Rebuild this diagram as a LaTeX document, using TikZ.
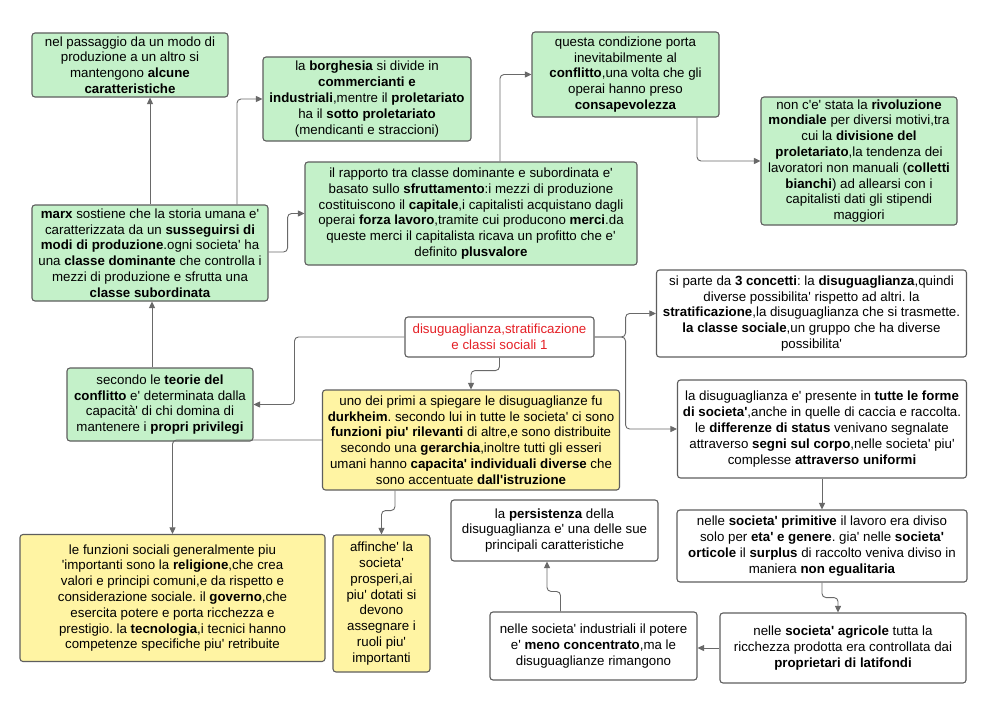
\documentclass[tikz,border=0pt]{standalone}
\usepackage{fontspec}
\setmainfont{Liberation Sans}[Ligatures=TeXOff]
\usetikzlibrary{arrows.meta}
\definecolor{gfill}{RGB}{196,241,201}
\definecolor{yfill}{RGB}{255,244,163}
\definecolor{bord}{RGB}{94,94,94}
\definecolor{linec}{RGB}{105,105,105}
\definecolor{redt}{RGB}{229,32,38}
\tikzset{
  base/.style={draw=bord, line width=1.1pt, rounded corners=3pt, align=center,
    inner sep=0pt, font=\fontsize{13.3}{15.8}\selectfont, text=black},
  gbox/.style={base, fill=gfill},
  ybox/.style={base, fill=yfill},
  wbox/.style={base, fill=white},
  conn/.style={draw=linec, line width=0.9pt, rounded corners=4pt,
    -{Triangle[length=6.5pt,width=6pt]}},
}
\frenchspacing
\begin{document}
\frenchspacing
\begin{tikzpicture}[x=1pt,y=-1pt]
\fill[white] (0,0) rectangle (1000,717);
\useasboundingbox (0,0) rectangle (1000,717);

\node[gbox, minimum width=196pt, minimum height=64pt] (A) at (130,65)
 {nel passaggio da un modo di\\ produzione a un altro si\\ mantengono \textbf{alcune}\\ \textbf{caratteristiche}};
\node[gbox, minimum width=208pt, minimum height=84pt] (B) at (367,99)
 {la \textbf{borghesia} si divide in\\ \textbf{commercianti e}\\ \textbf{industriali},mentre il \textbf{proletariato}\\ ha il \textbf{sotto proletariato}\\ (mendicanti e straccioni)};
\node[gbox, minimum width=187pt, minimum height=85pt] (C) at (625.5,74.5)
 {questa condizione porta\\ inevitabilmente al\\ \textbf{conflitto},una volta che gli\\ operai hanno preso\\ \textbf{consapevolezza}};
\node[gbox, minimum width=196pt, minimum height=128pt] (D) at (859,161)
 {non c'e' stata la \textbf{rivoluzione}\\ \textbf{mondiale} per diversi motivi,tra\\ cui la \textbf{divisione del}\\ \textbf{proletariato},la tendenza dei\\ lavoratori non manuali (\textbf{colletti}\\ \textbf{bianchi}) ad allearsi con i\\ capitalisti dati gli stipendi\\ maggiori};
\node[gbox, minimum width=236pt, minimum height=96pt] (E) at (150,253)
 {\textbf{marx} sostiene che la storia umana e'\\ caratterizzata da un \textbf{susseguirsi di}\\ \textbf{modi di produzione}.ogni societa' ha\\ una \textbf{classe dominante} che controlla i\\ mezzi di produzione e sfrutta una\\ \textbf{classe subordinata}};
\node[gbox, minimum width=332pt, minimum height=103pt] (F) at (471,213.5)
 {il rapporto tra classe dominante e subordinata e'\\ basato sullo \textbf{sfruttamento}:i mezzi di produzione\\ costituiscono il \textbf{capitale},i capitalisti acquistano dagli\\ operai \textbf{forza lavoro},tramite cui producono \textbf{merci}.da\\ queste merci il capitalista ricava un profitto che e'\\ definito \textbf{plusvalore}};
\node[gbox, minimum width=186pt, minimum height=73pt] (G) at (160,404.5)
 {secondo le \textbf{teorie del}\\ \textbf{conflitto} e' determinata dalla\\ capacità' di chi domina di\\ mantenere i \textbf{propri privilegi}};
\node[wbox, minimum width=189pt, minimum height=40pt, text=redt] (H) at (499.5,337)
 {disuguaglianza,stratificazione\\ e classi sociali 1};
\node[wbox, minimum width=310pt, minimum height=87pt] (I) at (811.5,313.5)
 {si parte da \textbf{3 concetti}: la \textbf{disuguaglianza},quindi\\ diverse possibilita' rispetto ad altri. la\\ \textbf{stratificazione},la disuguaglianza che si trasmette.\\ \textbf{la classe sociale},un gruppo che ha diverse\\ possibilita'};
\node[ybox, minimum width=297pt, minimum height=100pt] (J) at (471,440)
 {uno dei primi a spiegare le disuguaglianze fu\\ \textbf{durkheim}. secondo lui in tutte le societa' ci sono\\ \textbf{funzioni piu' rilevanti} di altre,e sono distribuite\\ secondo una \textbf{gerarchia},inoltre tutti gli esseri\\ umani hanno \textbf{capacita' individuali diverse} che\\ sono accentuate \textbf{dall'istruzione}};
\node[wbox, minimum width=289pt, minimum height=98pt] (K) at (822,429)
 {la disuguaglianza e' presente in \textbf{tutte le forme}\\ \textbf{di societa'},anche in quelle di caccia e raccolta.\\ le \textbf{differenze di status} venivano segnalate\\ attraverso \textbf{segni sul corpo},nelle societa' piu'\\ complesse \textbf{attraverso uniformi}};
\node[ybox, minimum width=305pt, minimum height=127pt] (L) at (172.5,598)
 {le funzioni sociali generalmente piu\\ 'importanti sono la \textbf{religione},che crea\\ valori e principi comuni,e da rispetto e\\ considerazione sociale. il \textbf{governo},che\\ esercita potere e porta ricchezza e\\ prestigio. la \textbf{tecnologia},i tecnici hanno\\ competenze specifiche piu' retribuite};
\node[ybox, minimum width=97pt, minimum height=137pt] (M) at (381.5,603.5)
 {affinche' la\\ societa'\\ prosperi,ai\\ piu' dotati si\\ devono\\ assegnare i\\ ruoli piu'\\ importanti};
\node[wbox, minimum width=207pt, minimum height=61pt] (N) at (554.5,530.5)
 {la \textbf{persistenza} della\\ disuguaglianza e' una delle sue\\ principali caratteristiche};
\node[wbox, minimum width=290pt, minimum height=72pt] (O) at (822,546)
 {nelle \textbf{societa' primitive} il lavoro era diviso\\ solo per \textbf{eta' e genere}. gia' nelle \textbf{societa'}\\ \textbf{orticole} il \textbf{surplus} di raccolto veniva diviso in\\ maniera \textbf{non egualitaria}};
\node[wbox, minimum width=207pt, minimum height=68pt] (P) at (593.5,646)
 {nelle societa' industriali il potere\\ e' \textbf{meno concentrato},ma le\\ disuguaglianze rimangono};
\node[wbox, minimum width=246pt, minimum height=70pt] (Q) at (843,648)
 {nelle \textbf{societa' agricole} tutta la\\ ricchezza prodotta era controllata dai\\ \textbf{proprietari di latifondi}};

% connectors
\draw[conn] (E.north) -- (E.north |- A.south);
\draw[conn] ([xshift=87pt]E.north) |- (B.west);
\draw[conn] ([yshift=1pt]E.east) -- ++(19,0) |- (F.west);
\draw[conn] ([xshift=29pt]F.north) |- (C.west);
\draw[conn] ([xshift=71.5pt]C.south) |- (D.west);
\draw[conn] (H.east) -- ++(31,0) |- (I.west);
\draw[conn] (H.east) -- ++(31,0) |- (K.west);
\draw[conn] (H.west) -- ++(-110,0) |- (G.east);
\draw[conn] ([xshift=-8pt]G.north) -- ([xshift=-8pt]G.north |- E.south);
\draw[conn] (H.south) -- ++(0,13) -| (J.north);
\draw[conn] (J.west) -| (L.north);
\draw[conn] ([xshift=-76pt]J.south) -- ++(0,20) -| (M.north);
\draw[conn] (K.south) -- (O.north);
\draw[conn] (O.south) -- ++(0,15) -| ([xshift=-5pt]Q.north);
\draw[conn] (Q.west) -- (Q.west -| P.east);
\draw[conn] ([xshift=-33pt]P.north) -- ++(0,-20) -| ([xshift=-7.5pt]N.south);
\end{tikzpicture}
\end{document}
